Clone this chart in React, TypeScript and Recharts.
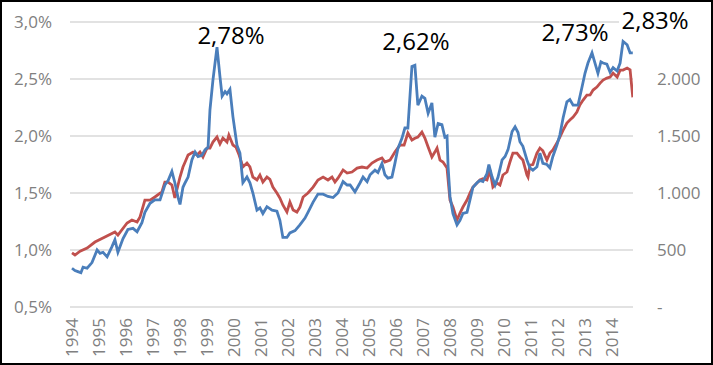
import { LineChart, Line, XAxis, YAxis, CartesianGrid, ReferenceDot } from 'recharts';

// blue series: % (left axis), grouped per year
const blueDates = [
  [1994.0, 1994.11, 1994.22, 1994.33, 1994.41, 1994.56, 1994.74, 1994.93],
  [1995.04, 1995.15, 1995.3, 1995.48, 1995.59, 1995.7, 1995.89],
  [1996.07, 1996.26, 1996.41, 1996.59, 1996.7, 1996.89],
  [1997.07, 1997.26, 1997.44, 1997.56, 1997.7, 1997.81, 1997.93],
  [1998.0, 1998.11, 1998.19, 1998.3, 1998.44, 1998.56, 1998.67, 1998.81, 1998.93],
  [1999.04, 1999.11, 1999.22, 1999.37, 1999.48, 1999.56, 1999.67, 1999.74, 1999.85, 1999.96],
  [2000.11, 2000.22, 2000.33, 2000.48, 2000.59, 2000.7, 2000.85, 2000.96],
  [2001.07, 2001.22, 2001.41, 2001.59, 2001.7, 2001.81, 2001.96],
  [2002.07, 2002.26, 2002.44, 2002.63, 2002.74, 2002.93],
  [2003.11, 2003.3, 2003.48, 2003.67, 2003.85],
  [2004.04, 2004.19, 2004.3, 2004.48, 2004.67, 2004.78, 2004.93],
  [2005.04, 2005.22, 2005.33, 2005.48, 2005.59, 2005.7, 2005.85, 2005.96],
  [2006.07, 2006.22, 2006.33, 2006.44, 2006.59, 2006.7, 2006.81, 2006.96],
  [2007.07, 2007.19, 2007.33, 2007.44, 2007.56, 2007.7, 2007.81, 2007.89, 2007.93],
  [2008.0, 2008.11, 2008.26, 2008.37, 2008.48, 2008.63, 2008.74, 2008.85],
  [2009.0, 2009.11, 2009.22, 2009.37, 2009.44, 2009.56, 2009.67, 2009.78, 2009.93],
  [2010.04, 2010.15, 2010.3, 2010.41, 2010.52, 2010.59, 2010.7, 2010.85, 2010.96],
  [2011.07, 2011.22, 2011.33, 2011.44, 2011.59, 2011.7, 2011.81, 2011.96],
  [2012.07, 2012.19, 2012.33, 2012.44, 2012.56, 2012.74, 2012.89],
  [2013.0, 2013.11, 2013.26, 2013.37, 2013.48, 2013.59, 2013.67, 2013.81, 2013.93],
  [2014.04, 2014.19, 2014.3, 2014.41, 2014.56, 2014.67, 2014.77],
];
const blueRates = [
  [0.84, 0.82, 0.81, 0.8, 0.85, 0.84, 0.89, 1.0],
  [0.97, 0.98, 0.94, 1.03, 1.09, 0.98, 1.1],
  [1.18, 1.19, 1.16, 1.24, 1.33, 1.41],
  [1.44, 1.44, 1.57, 1.61, 1.69, 1.59, 1.46],
  [1.4, 1.55, 1.59, 1.64, 1.79, 1.86, 1.82, 1.83, 1.88],
  [1.9, 2.23, 2.49, 2.78, 2.52, 2.35, 2.39, 2.37, 2.41, 2.17],
  [1.92, 1.85, 1.59, 1.64, 1.59, 1.5, 1.35, 1.37],
  [1.32, 1.38, 1.35, 1.34, 1.26, 1.11, 1.11],
  [1.15, 1.17, 1.22, 1.28, 1.33, 1.42],
  [1.49, 1.49, 1.47, 1.46, 1.5],
  [1.6, 1.57, 1.57, 1.51, 1.59, 1.64, 1.6],
  [1.66, 1.7, 1.68, 1.76, 1.66, 1.63, 1.64, 1.76],
  [1.89, 1.98, 2.07, 2.07, 2.61, 2.62, 2.27, 2.35],
  [2.33, 2.2, 2.29, 1.99, 2.11, 2.1, 1.99, 2.0, 1.73],
  [1.47, 1.32, 1.22, 1.26, 1.32, 1.33, 1.44, 1.55],
  [1.59, 1.61, 1.6, 1.67, 1.75, 1.64, 1.57, 1.64, 1.79],
  [1.82, 1.88, 2.04, 2.08, 2.03, 1.95, 1.91, 1.79, 1.72],
  [1.7, 1.73, 1.85, 1.76, 1.75, 1.72, 1.82, 1.92],
  [2.01, 2.16, 2.3, 2.32, 2.27, 2.27, 2.43],
  [2.55, 2.64, 2.73, 2.64, 2.55, 2.65, 2.64, 2.63, 2.56],
  [2.6, 2.57, 2.64, 2.83, 2.8, 2.73, 2.73],
];

// red series: index level (right axis), grouped per year
const redDates = [
  [1994.0, 1994.11, 1994.3, 1994.56, 1994.85],
  [1995.22, 1995.59, 1995.7],
  [1996.04, 1996.22, 1996.41, 1996.52, 1996.7, 1996.89],
  [1997.07, 1997.33, 1997.44, 1997.56, 1997.7, 1997.81],
  [1998.0, 1998.11, 1998.19, 1998.3, 1998.48, 1998.63, 1998.74, 1998.85],
  [1999.0, 1999.11, 1999.22, 1999.37, 1999.48, 1999.59, 1999.74, 1999.81, 1999.96],
  [2000.07, 2000.19, 2000.33, 2000.48, 2000.59, 2000.7, 2000.85, 2000.96],
  [2001.07, 2001.22, 2001.33, 2001.44, 2001.59, 2001.7, 2001.81, 2001.96],
  [2002.07, 2002.19, 2002.33, 2002.44, 2002.56, 2002.74, 2002.93],
  [2003.11, 2003.3, 2003.48, 2003.63, 2003.74, 2003.85],
  [2004.04, 2004.19, 2004.37, 2004.56, 2004.74, 2004.93],
  [2005.11, 2005.3, 2005.48, 2005.59, 2005.78, 2005.96],
  [2006.15, 2006.3, 2006.44, 2006.59, 2006.7, 2006.81, 2006.96],
  [2007.07, 2007.19, 2007.33, 2007.44, 2007.52, 2007.63, 2007.74, 2007.89],
  [2008.0, 2008.11, 2008.26, 2008.37, 2008.48, 2008.63, 2008.74, 2008.85],
  [2009.0, 2009.11, 2009.22, 2009.37, 2009.48, 2009.59, 2009.74, 2009.85, 2009.96],
  [2010.11, 2010.22, 2010.33, 2010.48, 2010.59, 2010.7, 2010.85, 2010.89, 2010.96],
  [2011.07, 2011.22, 2011.33, 2011.44, 2011.59, 2011.7, 2011.81, 2011.96],
  [2012.07, 2012.19, 2012.33, 2012.44, 2012.56, 2012.7, 2012.81, 2012.93],
  [2013.07, 2013.19, 2013.3, 2013.44, 2013.56, 2013.67, 2013.81, 2013.93],
  [2014.04, 2014.19, 2014.3, 2014.41, 2014.56, 2014.67, 2014.77],
];
const redLevels = [
  [474, 456, 490, 517, 570],
  [614, 658, 631],
  [737, 763, 745, 790, 938, 938],
  [965, 1009, 1096, 1096, 1070, 956],
  [1140, 1228, 1272, 1333, 1359, 1333, 1359, 1316],
  [1394, 1394, 1447, 1491, 1430, 1482, 1447, 1508, 1421],
  [1403, 1333, 1228, 1263, 1228, 1140, 1114, 1158],
  [1096, 1140, 1120, 1052, 1000, 956, 895, 833],
  [921, 851, 833, 875, 965, 1000, 1052],
  [1114, 1140, 1114, 1140, 1096, 1130],
  [1202, 1175, 1184, 1219, 1228, 1219],
  [1263, 1289, 1307, 1272, 1289, 1359],
  [1421, 1420, 1526, 1465, 1480, 1491, 1535],
  [1482, 1403, 1316, 1359, 1394, 1289, 1272, 1219],
  [938, 877, 763, 824, 877, 938, 1000, 1052],
  [1087, 1114, 1125, 1114, 1202, 1052, 1087, 1070, 1158],
  [1184, 1272, 1350, 1350, 1316, 1289, 1158, 1140, 1245],
  [1250, 1350, 1394, 1370, 1289, 1350, 1377, 1438],
  [1491, 1552, 1614, 1640, 1666, 1710, 1772, 1815],
  [1859, 1860, 1903, 1929, 1964, 1991, 2008, 2017],
  [2052, 2017, 2078, 2078, 2096, 2080, 1840],
];

const years = [
  1994, 1995, 1996, 1997, 1998, 1999, 2000, 2001, 2002, 2003, 2004, 2005, 2006, 2007, 2008, 2009, 2010, 2011,
  2012, 2013, 2014,
];
const leftTicks = [0.5, 1.0, 1.5, 2.0, 2.5, 3.0];
const rightTicks = [0, 500, 1000, 1500, 2000];

// peak annotations (text boxes above the peaks)
const peakDates = [1999.37, 2006.7, 2013.26, 2014.41];
const peakRates = [2.78, 2.62, 2.73, 2.83];
const peakLabels = ['2,78%', '2,62%', '2,73%', '2,83%'];
const peakShift = [
  [14, -3],
  [1, -15],
  [-17, -12],
  [32, -12],
];
const peakFilled = [false, false, false, true];

const blueData = blueDates.flat().map((d, i) => ({ date: d, rate: blueRates.flat()[i] }));
const redData = redDates.flat().map((d, i) => ({ date: d, level: redLevels.flat()[i] }));

const FONT = '"Open Sans", sans-serif';
const GREY = '#808080';

const pct = (v: number) => `${v.toFixed(1).replace('.', ',')}%`;
const thousands = (v: number) => {
  if (v === 0) return '-';
  if (v < 1000) return String(v);
  return `${Math.floor(v / 1000)}.${String(v % 1000).padStart(3, '0')}`;
};

function YearTick({ x, y, payload }: any) {
  return (
    <text
      x={x}
      y={y}
      transform={`rotate(-90, ${x}, ${y})`}
      textAnchor="end"
      dy="0.36em"
      fill={GREY}
      fontSize={17}
      fontFamily={FONT}
    >
      {payload.value}
    </text>
  );
}

export default function App() {
  return (
    <div
      style={{
        position: 'absolute',
        left: 0,
        top: 0,
        width: 713,
        height: 365,
        border: '2px solid #000',
        boxSizing: 'border-box',
        background: '#fff',
      }}
    >
      <LineChart width={709} height={361} margin={{ top: 20, right: 0, bottom: 0, left: 0 }}>
        <CartesianGrid yAxisId="left" vertical={false} stroke="#d9d9d9" strokeWidth={1.5} />
        <XAxis
          dataKey="date"
          type="number"
          domain={[1993.926, 2014.778]}
          ticks={years}
          interval={0}
          allowDataOverflow
          height={56}
          axisLine={false}
          tickLine={false}
          tickSize={0}
          tickMargin={11}
          tick={<YearTick />}
        />
        <YAxis
          yAxisId="left"
          domain={[0.5, 3.0]}
          ticks={leftTicks}
          width={68}
          axisLine={false}
          tickLine={false}
          tickSize={0}
          tickMargin={18}
          tickFormatter={pct}
          tick={{ fill: GREY, fontSize: 17, fontFamily: FONT }}
        />
        <YAxis
          yAxisId="right"
          orientation="right"
          domain={[0, 2500]}
          ticks={rightTicks}
          width={78}
          axisLine={false}
          tickLine={false}
          tickSize={0}
          tickMargin={24}
          tickFormatter={thousands}
          tick={{ fill: GREY, fontSize: 17, fontFamily: FONT, textAnchor: 'start' }}
        />
        <Line
          yAxisId="right"
          data={redData}
          dataKey="level"
          stroke="#c0504d"
          strokeWidth={2.8}
          dot={false}
          isAnimationActive={false}
        />
        <Line
          yAxisId="left"
          data={blueData}
          dataKey="rate"
          stroke="#4a7ebb"
          strokeWidth={2.8}
          dot={false}
          isAnimationActive={false}
        />
        {peakDates.map((d, i) => (
          <ReferenceDot
            key={peakLabels[i]}
            yAxisId="left"
            x={d}
            y={peakRates[i]}
            r={0}
            ifOverflow="visible"
            label={{
              content: (p: any) => {
                const vb = p.viewBox || {};
                const cx = vb.x + peakShift[i][0];
                const by = vb.y + peakShift[i][1];
                return (
                  <g>
                    {peakFilled[i] && <rect x={cx - 36} y={by - 22} width={72} height={28} fill="#fff" />}
                    <text x={cx} y={by} textAnchor="middle" fontSize={24} fontFamily={FONT} fill="#000">
                      {peakLabels[i]}
                    </text>
                  </g>
                );
              },
            }}
          />
        ))}
      </LineChart>
    </div>
  );
}
